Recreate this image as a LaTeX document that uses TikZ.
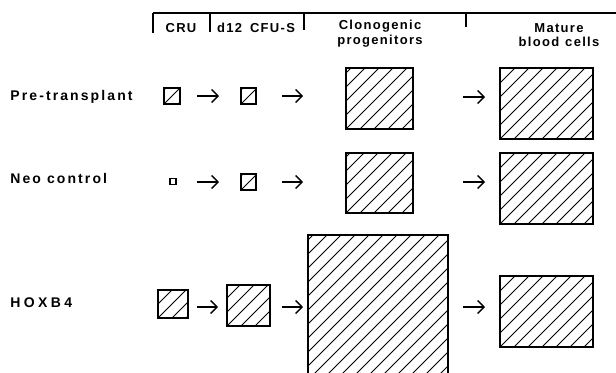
\documentclass[tikz,border=0pt]{standalone}
\usepackage{fontspec}
\setmainfont{Liberation Sans}
\newfontfamily\hdrfont[LetterSpace=10]{Liberation Sans}
\newfontfamily\rowfont[LetterSpace=15]{Liberation Sans}
\newfontfamily\rowwide[LetterSpace=24]{Liberation Sans}
\usetikzlibrary{arrows.meta,calc}
\tikzset{
  hb/.style 2 args={draw, line width=0.8pt, inner sep=0pt, outer sep=0pt,
    minimum width=#1*0.5pt, minimum height=#2*0.5pt,
    path picture={\foreach \k in {-12,...,12}{
      \draw[line width=0.45pt] ($(path picture bounding box.south west)+(\k*7pt,0)$) -- ++(150pt,150pt);}}},
  plainbox/.style 2 args={draw, line width=0.8pt, inner sep=0pt, outer sep=0pt,
    minimum width=#1*0.5pt, minimum height=#2*0.5pt},
  arr/.style={line width=0.7pt, -{Straight Barb[length=3.2pt,width=6.5pt,line width=0.7pt]}},
  hdr/.style={font=\hdrfont\bfseries\fontsize{6.5}{7.2}\selectfont, align=center, inner sep=0pt},
  rowlbl/.style={font=\rowfont\bfseries\fontsize{7}{8}\selectfont, anchor=west, inner sep=0pt},
  rule/.style={line width=0.6pt}
}
\begin{document}
\begin{tikzpicture}[x=0.5pt,y=-0.5pt]
\useasboundingbox (0,0) rectangle (616,372);
\clip (0,0) rectangle (616,372);
% header
\coordinate (h0) at (153,13);
\coordinate (h1) at (616,13);
\draw[rule] (h0) -- (h1);
\coordinate (t1) at (153,33);
\coordinate (u2) at (210,13);
\coordinate (t2) at (210,32);
\coordinate (u3) at (304,13);
\coordinate (t3) at (304,30);
\coordinate (u4) at (466,13);
\coordinate (t4) at (466,27);
\draw[rule] (h0) -- (t1);
\draw[rule] (u2) -- (t2);
\draw[rule] (u3) -- (t3);
\draw[rule] (u4) -- (t4);
\node[hdr] (c1) at (181,28) {CRU};
\node[hdr] (c2) at (256,28) {d12\hspace{4pt}CFU-S};
\node[hdr] (c3) at (380,33.5) {Clonogenic\\progenitors};
\node[hdr] (c4) at (559,35) {Mature\\blood\hspace{3pt}cells};
% row labels
\node[rowlbl] (r1) at (10,97) {Pre-transplant};
\node[rowlbl] (r2) at (10,178) {Neo\hspace{3pt}control};
\node[rowlbl, font=\rowwide\bfseries\fontsize{7}{8}\selectfont] (r3) at (10,303) {HOXB4};
% row 1
\node[hb={16}{16}] (b11) at (172,96) {};
\node[hb={15}{16}] (b12) at (248.5,96) {};
\node[hb={67}{61}] (b13) at (379.5,98.5) {};
\node[hb={93}{71}] (b14) at (546.5,103.5) {};
\draw[arr, shorten <=8.5pt, shorten >=11pt] (b11.east) -- (b11.east -| b12.west);
\draw[arr, shorten <=13pt, shorten >=21.5pt] (b12.east) -- (b12.east -| b13.west);
\coordinate (m1) at (413,97);
\draw[arr, shorten <=25pt, shorten >=7.5pt] (m1) -- (m1 -| b14.west);
% row 2
\node[plainbox={6}{6}] (b21) at (173,181.5) {};
\node[hb={15}{16}] (b22) at (248.5,182) {};
\node[hb={67}{60}] (b23) at (379.5,183) {};
\node[hb={93}{71}] (b24) at (546.5,188.5) {};
\coordinate (m0) at (176,182);
\draw[arr, shorten <=10.5pt, shorten >=11pt] (m0) -- (m0 -| b22.west);
\draw[arr, shorten <=13pt, shorten >=21.5pt] (b22.east) -- (b22.east -| b23.west);
\coordinate (m2) at (413,182);
\draw[arr, shorten <=25pt, shorten >=7.5pt] (m2) -- (m2 -| b24.west);
% row 3
\node[hb={30}{28}] (b31) at (173,304) {};
\node[hb={43}{41}] (b32) at (248.5,305.5) {};
\node[hb={140}{145}] (b33) at (378,307.5) {};
\node[hb={93}{71}] (b34) at (546.5,311.5) {};
\coordinate (m3) at (188,307);
\draw[arr, shorten <=4.5pt, shorten >=4.5pt] (m3) -- (m3 -| b32.west);
\coordinate (m4) at (270,307);
\draw[arr, shorten <=6pt, shorten >=2.5pt] (m4) -- (m4 -| b33.west);
\coordinate (m5) at (448,307);
\draw[arr, shorten <=7.5pt, shorten >=7.5pt] (m5) -- (m5 -| b34.west);
\end{tikzpicture}
\end{document}
